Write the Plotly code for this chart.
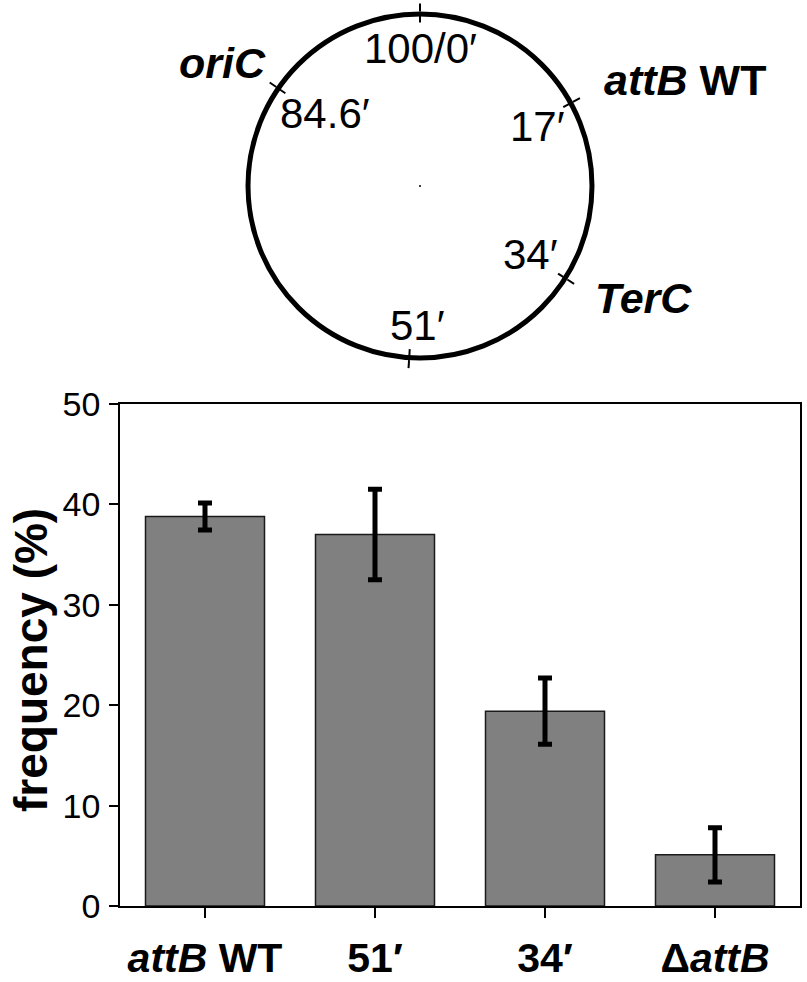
import plotly.graph_objects as go

# ---- data ----
categories = ["attB WT", "51′", "34′", "ΔattB"]
tick_labels = ["<i>attB</i> WT", "51′", "34′", "Δ<i>attB</i>"]
frequency = [38.8, 37.0, 19.4, 5.1]
freq_error = [1.35, 4.5, 3.3, 2.7]
y_ticks = [0, 10, 20, 30, 40, 50]

# chromosome map positions (minutes, 0-100)
map_positions = [0, 84.6, 17, 34, 51]
map_pos_labels = ["100/0′", "84.6′", "17′", "34′", "51′"]
map_site_labels = ["<i>oriC</i>", "<i>attB</i> WT", "<i>TerC</i>"]

W, H = 807, 982
FONT = "Liberation Sans, Arial, Helvetica, sans-serif"


def px(x):
    return x / W


def py(y):
    return 1 - y / H


fig = go.Figure()

fig.add_trace(go.Bar(
    x=categories, y=frequency,
    marker=dict(color="#808080", line=dict(color="#1a1a1a", width=1.5)),
    width=0.7,
    error_y=dict(type="data", array=freq_error, visible=True,
                 color="black", thickness=5, width=7),
    xaxis="x", yaxis="y", showlegend=False,
))

# circular map: two overlaid polar subplots (ticks outside / inside)
deg = [p * 3.6 for p in map_positions]
fig.add_trace(go.Scatterpolar(r=[0], theta=[0], mode="markers",
                              marker=dict(color="black", size=2),
                              subplot="polar", showlegend=False))
fig.add_trace(go.Scatterpolar(r=[0], theta=[0], mode="markers",
                              marker=dict(color="rgba(0,0,0,0)", size=1),
                              subplot="polar2", showlegend=False))

pdom_x = [px(248), px(592)]
pdom_y = [py(358), py(14)]
common_radial = dict(visible=False, range=[0, 1])
fig.update_layout(
    polar=dict(
        domain=dict(x=pdom_x, y=pdom_y), bgcolor="rgba(0,0,0,0)",
        radialaxis=common_radial,
        angularaxis=dict(rotation=90, direction="clockwise", showgrid=False,
                         showline=True, linewidth=5, linecolor="black",
                         tickmode="array", tickvals=deg, ticks="outside",
                         ticklen=8, tickwidth=2, tickcolor="black",
                         showticklabels=False),
    ),
    polar2=dict(
        domain=dict(x=pdom_x, y=pdom_y), bgcolor="rgba(0,0,0,0)",
        radialaxis=common_radial,
        angularaxis=dict(rotation=90, direction="clockwise", showgrid=False,
                         showline=False,
                         tickmode="array", tickvals=deg, ticks="inside",
                         ticklen=8, tickwidth=2, tickcolor="black",
                         showticklabels=False),
    ),
)

fig.update_layout(
    width=W, height=H,
    margin=dict(l=0, r=0, t=0, b=0, autoexpand=False),
    paper_bgcolor="white", plot_bgcolor="white",
    font=dict(family=FONT, color="black"),
    bargap=0.3,
    xaxis=dict(domain=[px(120), px(800)], range=[-0.5, 3.5],
               tickmode="array", tickvals=categories, ticktext=tick_labels,
               ticks="outside", ticklen=10, tickwidth=1.5, tickcolor="black",
               showline=True, linewidth=1.5, linecolor="black", mirror=True,
               tickfont=dict(size=41, weight="bold", family=FONT),
               ticklabelstandoff=5, automargin=False,
               showgrid=False, zeroline=False, anchor="y"),
    yaxis=dict(domain=[py(906), py(404)], range=[0, 50],
               tickmode="array", tickvals=y_ticks,
               ticks="outside", ticklen=9, tickwidth=1.5, tickcolor="black",
               showline=True, linewidth=1.5, linecolor="black", mirror=True,
               tickfont=dict(size=34, family=FONT),
               ticklabelstandoff=2, automargin=False,
               showgrid=False, zeroline=False, anchor="x"),
)

annos = []
annos.append(dict(x=px(31), y=py(660), text="<b>frequency (%)</b>", textangle=-90,
                  font=dict(size=46, family=FONT)))
# map position labels
pos_xy = [(420, 48), (325, 113), (537, 126), (530, 254), (417, 325)]
for (x, y), t in zip(pos_xy, map_pos_labels):
    annos.append(dict(x=px(x), y=py(y), text=t, font=dict(size=42, family=FONT)))
site_xy = [(222, 63), (685, 80), (643, 298)]
for (x, y), t in zip(site_xy, map_site_labels):
    annos.append(dict(x=px(x), y=py(y), text=t,
                      font=dict(size=43, family=FONT, weight="bold")))
for a in annos:
    a.update(xref="paper", yref="paper", showarrow=False,
             xanchor="center", yanchor="middle")
fig.update_layout(annotations=annos)

fig.write_html("out.html", config={"displayModeBar": False},
               post_script="document.body.style.margin='0';")
